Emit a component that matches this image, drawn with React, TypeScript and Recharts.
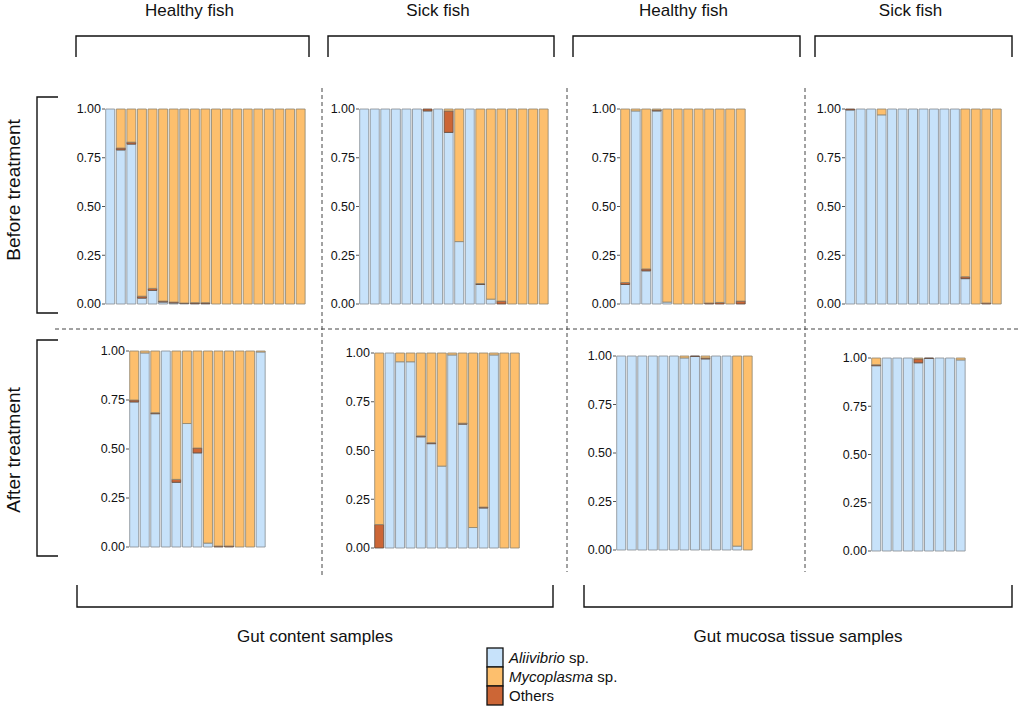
import React from "react";
import { BarChart, Bar, XAxis, YAxis } from "recharts";

// relative abundance per sample (stack order: Aliivibrio, Others, Mycoplasma)
const contentHealthyBeforeAlii = [1, 0.79, 0.82, 0.03, 0.07, 0.01, 0.005, 0.003, 0.002, 0.002, 0, 0, 0, 0, 0, 0, 0, 0, 0];
const contentHealthyBeforeOther = [0, 0.01, 0.01, 0.01, 0.01, 0.005, 0.005, 0.002, 0.005, 0.005, 0, 0, 0, 0, 0, 0, 0, 0, 0];
const contentHealthyBeforeMyco = [0, 0.2, 0.17, 0.96, 0.92, 0.985, 0.99, 0.995, 0.993, 0.993, 1, 1, 1, 1, 1, 1, 1, 1, 1];

const contentSickBeforeAlii = [1, 1, 1, 1, 1, 1, 0.99, 1, 0.88, 0.32, 1, 0.1, 0.025, 0, 0, 0, 0, 0];
const contentSickBeforeOther = [0, 0, 0, 0, 0, 0, 0.01, 0, 0.11, 0, 0, 0.005, 0, 0.015, 0, 0, 0, 0];
const contentSickBeforeMyco = [0, 0, 0, 0, 0, 0, 0, 0, 0.01, 0.68, 0, 0.895, 0.975, 0.985, 1, 1, 1, 1];

const mucosaHealthyBeforeAlii = [0.1, 0.99, 0.17, 0.99, 0.01, 0, 0, 0, 0, 0, 0, 0];
const mucosaHealthyBeforeOther = [0.01, 0, 0.01, 0.005, 0, 0, 0, 0, 0.005, 0.008, 0, 0.015];
const mucosaHealthyBeforeMyco = [0.89, 0.01, 0.82, 0.005, 0.99, 1, 1, 1, 0.995, 0.992, 1, 0.985];

const mucosaSickBeforeAlii = [0.995, 1, 1, 0.97, 1, 1, 1, 1, 1, 1, 1, 0.13, 0, 0, 0];
const mucosaSickBeforeOther = [0.005, 0, 0, 0, 0, 0, 0, 0, 0, 0, 0, 0.01, 0, 0.005, 0];
const mucosaSickBeforeMyco = [0, 0, 0, 0.03, 0, 0, 0, 0, 0, 0, 0, 0.86, 1, 0.995, 1];

const contentHealthyAfterAlii = [0.74, 0.99, 0.68, 1, 0.33, 0.63, 0.48, 0.02, 0, 0, 0, 0, 0.995];
const contentHealthyAfterOther = [0.01, 0, 0.005, 0, 0.015, 0, 0.025, 0, 0.005, 0.005, 0, 0, 0];
const contentHealthyAfterMyco = [0.25, 0.01, 0.315, 0, 0.655, 0.37, 0.495, 0.98, 0.995, 0.995, 1, 1, 0.005];

const contentSickAfterAlii = [0, 1, 0.955, 0.955, 0.57, 0.535, 0.42, 0.99, 0.635, 0.105, 0.205, 0.99, 0, 0];
const contentSickAfterOther = [0.12, 0, 0, 0, 0.005, 0.005, 0, 0, 0.005, 0, 0.005, 0, 0, 0];
const contentSickAfterMyco = [0.88, 0, 0.045, 0.045, 0.425, 0.46, 0.58, 0.01, 0.36, 0.895, 0.79, 0.01, 1, 1];

const mucosaHealthyAfterAlii = [1, 1, 1, 1, 1, 1, 0.99, 0.998, 0.985, 1, 1, 0.02, 0];
const mucosaHealthyAfterOther = [0, 0, 0, 0, 0, 0, 0, 0.002, 0.005, 0, 0, 0, 0];
const mucosaHealthyAfterMyco = [0, 0, 0, 0, 0, 0, 0.01, 0, 0.01, 0, 0, 0.98, 1];

const mucosaSickAfterAlii = [0.96, 1, 1, 1, 0.975, 0.998, 1, 1, 0.99];
const mucosaSickAfterOther = [0.005, 0, 0, 0, 0.02, 0.002, 0, 0, 0];
const mucosaSickAfterMyco = [0.035, 0, 0, 0, 0.005, 0, 0, 0, 0.01];

const yTicks = [0, 0.25, 0.5, 0.75, 1];
const groupLabels = ["Healthy fish", "Sick fish", "Healthy fish", "Sick fish"];
const rowLabels = ["Before treatment", "After treatment"];
const sampleTypeLabels = ["Gut content samples", "Gut mucosa tissue samples"];

const COLORS = { alii: "#c7e2fa", myco: "#fdbf6d", other: "#cc6636" };
const FONT = "'Liberation Sans', Arial, Helvetica, sans-serif";

function rows(alii: number[], other: number[], myco: number[]) {
  return alii.map((a, i) => ({ sample: `S${i + 1}`, alii: a, other: other[i], myco: myco[i] }));
}

// plot-area boxes: [left, right, top(1.00), bottom(0.00)]
const panels = [
  { data: rows(contentHealthyBeforeAlii, contentHealthyBeforeOther, contentHealthyBeforeMyco), box: [105, 306, 109, 304] },
  { data: rows(contentSickBeforeAlii, contentSickBeforeOther, contentSickBeforeMyco), box: [359, 549, 109, 304] },
  { data: rows(mucosaHealthyBeforeAlii, mucosaHealthyBeforeOther, mucosaHealthyBeforeMyco), box: [620, 746, 109, 304] },
  { data: rows(mucosaSickBeforeAlii, mucosaSickBeforeOther, mucosaSickBeforeMyco), box: [845, 1002, 109, 304] },
  { data: rows(contentHealthyAfterAlii, contentHealthyAfterOther, contentHealthyAfterMyco), box: [129, 266, 351, 547] },
  { data: rows(contentSickAfterAlii, contentSickAfterOther, contentSickAfterMyco), box: [374, 520, 353, 548] },
  { data: rows(mucosaHealthyAfterAlii, mucosaHealthyAfterOther, mucosaHealthyAfterMyco), box: [616, 753, 356, 550] },
  { data: rows(mucosaSickAfterAlii, mucosaSickAfterOther, mucosaSickAfterMyco), box: [871, 966, 358, 551] },
];

const AXIS_W = 34;
const M_TOP = 8;
const M_BOT = 8;

function Panel({ data, box }: { data: any[]; box: number[] }) {
  const [l, r, t, b] = box;
  const w = AXIS_W + (r - l) + 2;
  const h = M_TOP + (b - t) + M_BOT;
  return (
    <div style={{ position: "absolute", left: l - AXIS_W, top: t - M_TOP }}>
      <BarChart
        width={w}
        height={h}
        data={data}
        margin={{ top: M_TOP, right: 2, bottom: M_BOT, left: 0 }}
        barCategoryGap={0.7}
      >
        <XAxis dataKey="sample" hide />
        <YAxis
          width={AXIS_W}
          domain={[0, 1]}
          ticks={yTicks}
          interval={0}
          axisLine={false}
          tickSize={3}
          tickMargin={1}
          tickLine={{ stroke: "#555" }}
          tickFormatter={(v: number) => v.toFixed(2)}
          tick={{ fontSize: 12.5, fill: "#111", fontFamily: FONT }}
        />
        <Bar dataKey="alii" stackId="s" fill={COLORS.alii} stroke="#858b91" strokeWidth={0.8} isAnimationActive={false} />
        <Bar dataKey="other" stackId="s" fill={COLORS.other} stroke="#5a4a40" strokeWidth={0.8} isAnimationActive={false} />
        <Bar dataKey="myco" stackId="s" fill={COLORS.myco} stroke="#8d8470" strokeWidth={0.8} isAnimationActive={false} />
      </BarChart>
    </div>
  );
}

const topBrackets = [
  [76, 309],
  [328, 554],
  [573, 800],
  [815, 1012],
];
const bottomBrackets = [
  [77, 553],
  [584, 1012],
];
const sideBrackets = [
  [97, 313],
  [340, 556],
];
const sideLabelCenters = [190, 450];

export default function App() {
  return (
    <div
      style={{
        position: "absolute",
        left: 0,
        top: 0,
        width: 1021,
        height: 715,
        background: "#fff",
        fontFamily: FONT,
        overflow: "hidden",
      }}
    >
      <svg width={1021} height={715} style={{ position: "absolute", left: 0, top: 0 }}>
        {topBrackets.map(([x1, x2], i) => (
          <g key={`tb${i}`}>
            <path d={`M${x1},57 V36 H${x2} V57`} fill="none" stroke="#111" strokeWidth={1.4} />
            <text x={(x1 + x2) / 2 - 3} y={16} textAnchor="middle" fontSize={17} fill="#111" fontFamily={FONT}>
              {groupLabels[i]}
            </text>
          </g>
        ))}
        {sideBrackets.map(([y1, y2], i) => (
          <g key={`sb${i}`}>
            <path d={`M58,${y1} H37 V${y2} H58`} fill="none" stroke="#111" strokeWidth={1.4} />
            <text
              x={0}
              y={0}
              transform={`translate(20,${sideLabelCenters[i]}) rotate(-90)`}
              textAnchor="middle"
              fontSize={19}
              fill="#111"
              fontFamily={FONT}
            >
              {rowLabels[i]}
            </text>
          </g>
        ))}
        {bottomBrackets.map(([x1, x2], i) => (
          <g key={`bb${i}`}>
            <path d={`M${x1},585 V607 H${x2} V585`} fill="none" stroke="#111" strokeWidth={1.4} />
            <text x={(x1 + x2) / 2} y={642} textAnchor="middle" fontSize={17} fill="#111" fontFamily={FONT}>
              {sampleTypeLabels[i]}
            </text>
          </g>
        ))}
        <line x1={55} y1={329} x2={1018} y2={329} stroke="#444" strokeDasharray="4 3" strokeWidth={1} />
        <line x1={322} y1={88} x2={322} y2={575} stroke="#444" strokeDasharray="4 3" strokeWidth={1} />
        <line x1={567} y1={88} x2={567} y2={572} stroke="#444" strokeDasharray="4 3" strokeWidth={1} />
        <line x1={805} y1={88} x2={805} y2={572} stroke="#444" strokeDasharray="4 3" strokeWidth={1} />

        <g fontFamily={FONT} fontSize={15} fill="#111">
          <rect x={487} y={648} width={16} height={19} fill={COLORS.alii} stroke="#111" strokeWidth={1.3} />
          <rect x={487} y={667} width={16} height={19} fill={COLORS.myco} stroke="#111" strokeWidth={1.3} />
          <rect x={487} y={686} width={16} height={19} fill={COLORS.other} stroke="#111" strokeWidth={1.3} />
          <text x={509} y={663}>
            <tspan fontStyle="italic">Aliivibrio</tspan> sp.
          </text>
          <text x={509} y={682}>
            <tspan fontStyle="italic">Mycoplasma</tspan> sp.
          </text>
          <text x={509} y={701}>Others</text>
        </g>
      </svg>
      {panels.map((p, i) => (
        <Panel key={i} data={p.data} box={p.box} />
      ))}
    </div>
  );
}
